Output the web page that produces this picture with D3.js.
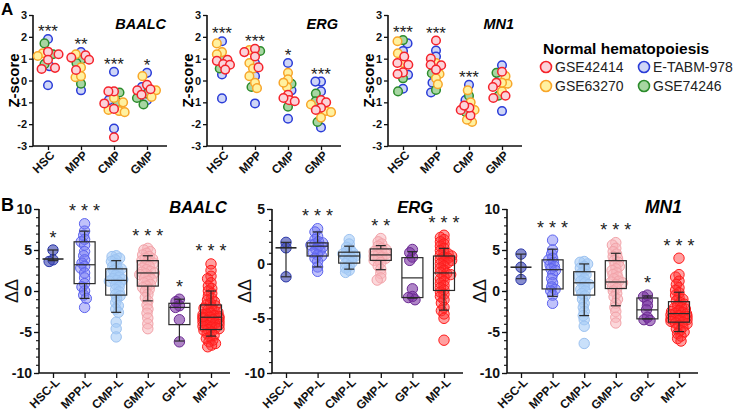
<!DOCTYPE html>
<html><head><meta charset="utf-8">
<script src="https://cdn.jsdelivr.net/npm/d3@7"></script>
<style>body{margin:0;background:#fff} svg{display:block} text{font-family:"Liberation Sans",Arial,Helvetica,sans-serif}</style>
</head><body><svg id="c" width="734" height="415"></svg>
<script>
// ---------------- DATA ----------------
const zCategories = ["HSC","MPP","CMP","GMP"];
const datasetNames = ["GSE42414","E-TABM-978","GSE63270","GSE74246"];
// zX[category][dataset] -> Z-scores ; dataset order as datasetNames
const zBAALC = [
  [[1.32,1.2,0.95,0.58,0.53],[1.9,0.65,-0.22],[1.25,1.12],[1.7,1.2,0.75]],
  [[1.15,1.05,0.95,0.48],[1.3,-0.45],[1.2,0.6,0.15,0.2],[0.95,0.8,-0.15]],
  [[-0.5,-0.5,-1.05,-1.3,-2.6],[0.4,-0.9,-2.2],[-0.8,-1.0,-1.4,-1.45,-1.35],[-0.55,-1.0]],
  [[-0.2,-0.4,-0.45,-0.65],[0.35,-0.3,-0.9],[0.2,-0.45,-0.75],[-0.6,-0.8,-1.1]]
];
const zERG = [
  [[0.95,0.9,0.75,0.72,0.5],[1.8,0.28,-0.82],[1.7,1.3,1.2],[0.55,1.0]],
  [[1.45,1.3,1.1,0.6],[0.8,0.2,-1.05],[1.4,0.8,0.55,0.2,-0.1,-0.35],[1.35,-0.3]],
  [[-0.65,-0.9,-0.95,-0.8],[0.8,-0.45,-1.75],[0.35,0.05,-0.3,-0.1],[-0.15,-1.2]],
  [[-0.9,-1.0,-1.25,-1.35],[-0.05,-0.05,-0.5,-2.15],[-1.4,-1.45,-1.7,-1.1],[-0.6,-0.95,-1.9]]
];
const zMN1 = [
  [[1.1,0.8,0.72,0.37,0.3],[1.7,1.35,0.26,-0.38],[1.8,1.25,0.8],[1.85,0.1,-0.5]],
  [[1.83,1.0,0.72,0.7,0.5],[1.37,1.1,-0.1,-0.55],[0.8,0.3,0.1,-0.17],[0.33,-0.43]],
  [[-1.6,-1.35,-1.25,-1.15],[-0.2,-0.9],[-0.45,-1.0,-1.35,-1.9,-1.8],[-0.7,-1.45]],
  [[0.4,-0.1,-0.3,-0.8,-0.7],[0.7,-1.4,0.15],[0.2,-0.15,-0.5,-0.1],[0.35,-0.7]]
];
const starsA_BAALC = ["***","**","***","*"];
const starsA_ERG   = ["***","***","*","***"];
const starsA_MN1   = ["***","***","***",""];
const zTicks = [-3,-2,-1,0,1,2,3];

const bCategories = ["HSC-L","MPP-L","CMP-L","GMP-L","GP-L","MP-L"];
const bBAALC = [
  [5.0,3.8,3.6],
  [8.2,7.3,6.8,6.3,6.0,5.6,4.8,4.3,3.8,3.4,3.0,2.8,2.2,1.6,0.9,0.5,0.0,-0.5,-0.9,-2.0],
  [4.3,4.2,4.0,3.8,3.6,3.3,3.0,2.8,2.7,2.5,2.3,2.1,1.9,1.7,1.5,1.4,1.3,1.2,1.0,0.8,0.5,0.2,-0.1,-0.4,-0.6,-0.9,-1.4,-1.8,-2.2,-2.6,-3.8,-4.6,-5.6],
  [5.2,5.0,4.8,4.6,4.4,4.2,4.0,3.9,3.7,3.6,3.4,3.2,3.0,2.8,2.6,2.4,2.3,2.2,2.1,2.0,1.8,1.6,1.4,1.2,1.0,0.8,0.6,0.4,0.2,0.0,-0.4,-0.8,-1.2,-1.7,-2.2,-2.7,-3.3,-4.0,-4.6],
  [-1.0,-1.3,-1.8,-2.0,-3.5,-6.2],
  [3.3,2.5,1.8,1.5,1.0,0.6,0.3,0.0,-0.3,-0.6,-0.9,-1.1,-1.3,-1.5,-1.7,-1.8,-2.0,-2.1,-2.3,-2.4,-2.6,-2.7,-2.8,-2.9,-3.0,-3.1,-3.2,-3.2,-3.3,-3.4,-3.5,-3.6,-3.7,-3.8,-3.9,-4.0,-4.1,-4.2,-4.3,-4.4,-4.5,-4.6,-4.7,-4.8,-5.0,-5.2,-5.4,-5.6,-5.8,-6.0,-6.2,-6.4,-6.6,-6.8]
];
// [whisker low, Q1, median, Q3, whisker high]
const boxBAALC = [[3.7,null,3.9,null,5.0],[-0.9,0.9,3.2,6.0,7.3],[-2.6,-0.5,1.3,2.7,3.7],[-1.2,0.6,2.2,3.7,4.3],[-6.1,-4.1,-2.0,-1.5,-1.0],[-5.5,-4.7,-3.2,-1.7,0.0]];
const bERG = [
  [1.95,1.45,-1.2],
  [3.2,2.9,2.5,2.2,2.0,1.9,1.8,1.7,1.6,1.5,1.3,1.2,1.0,0.8,0.7,0.5,0.2,-0.3,-0.7],
  [2.2,1.8,1.5,1.3,1.1,1.0,0.9,0.8,0.7,0.6,0.5,0.3,0.1,0.0,-0.2,-0.4,-0.6,-0.8],
  [2.3,2.0,1.8,1.6,1.4,1.3,1.2,1.1,1.0,0.9,0.8,0.7,0.6,0.5,0.4,0.3,0.1,-0.2,-0.5,-0.9,-1.3,-1.5],
  [1.3,1.0,0.6,0.3,-2.3,-3.0,-3.1,-3.3],
  [2.6,2.4,2.2,2.0,1.8,1.6,1.4,1.2,1.0,0.9,0.8,0.7,0.6,0.5,0.4,0.3,0.2,0.1,0.0,-0.2,-0.4,-0.6,-0.8,-0.9,-1.0,-1.2,-1.4,-1.6,-1.8,-2.0,-2.2,-2.4,-2.6,-2.8,-3.0,-3.3,-3.6,-4.0,-4.3,-4.6,-5.0,-7.0]
];
const boxERG = [[-1.2,null,1.45,null,1.95],[-0.3,0.7,1.6,1.9,2.9],[-0.5,0.05,0.7,1.05,1.6],[-0.55,0.3,0.8,1.35,1.65],[-3.15,-3.1,-1.3,0.55,1.1],[-4.25,-2.45,-0.85,0.7,1.4]];
const bMN1 = [
  [4.5,2.9,1.4],
  [6.2,5.0,4.5,4.0,3.8,3.5,3.2,3.0,2.7,2.5,2.0,1.5,1.0,0.5,0.2,0.0,-0.5,-1.5],
  [3.6,3.5,3.3,3.0,2.8,2.5,2.2,2.0,1.8,1.5,1.2,1.0,0.8,0.5,0.2,0.0,-0.3,-0.6,-1.0,-1.5,-2.0,-2.5,-3.0,-3.5,-4.3,-6.4],
  [5.9,5.6,5.2,4.8,4.5,4.2,4.0,3.7,3.5,3.2,3.0,2.7,2.5,2.2,2.0,1.7,1.5,1.2,1.1,1.0,0.8,0.5,0.3,0.0,-0.3,-0.7,-1.0,-1.5,-2.0,-2.5,-3.2,-3.9],
  [-0.5,-0.7,-1.2,-1.8,-2.3,-3.2,-3.5,-3.6],
  [4.0,2.0,1.7,1.2,0.8,0.4,0.1,-0.2,-0.5,-0.8,-1.0,-1.2,-1.4,-1.6,-1.8,-2.0,-2.1,-2.2,-2.4,-2.5,-2.6,-2.7,-2.8,-2.9,-3.0,-3.1,-3.2,-3.3,-3.4,-3.5,-3.6,-3.7,-3.8,-3.9,-4.0,-4.2,-4.4,-4.6,-4.8,-5.0,-5.2,-5.5,-5.8,-6.1]
];
const boxMN1 = [[1.5,null,2.9,null,4.5],[-0.65,0.25,2.6,3.8,5.1],[-3.0,-0.5,1.0,2.35,3.3],[-1.8,0.3,1.1,3.7,4.6],[-3.4,-3.4,-2.3,-0.85,-0.6],[-4.95,-3.8,-2.75,-1.3,-0.15]];
const starsB_BAALC = ["*","***","","***","*","***"];
const starsB_ERG   = ["","***","","**","","***"];
const starsB_MN1   = ["","***","","***","*","***"];

// ---------------- STYLE ----------------
const dsStyle = [
  {stroke:"#f5232b", fill:"#fbd3da"},
  {stroke:"#2b3dd8", fill:"#cfd6f6"},
  {stroke:"#f8a62a", fill:"#fff1a0"},
  {stroke:"#2c8c2c", fill:"#a7d6a2"}
];
const drawOrder = [1,3,2,0];
const bStyle = [
  {stroke:"#2a37a8", fill:"rgba(55,65,175,0.6)"},
  {stroke:"#5c63ef", fill:"rgba(115,120,245,0.45)"},
  {stroke:"#9cc2f0", fill:"rgba(165,203,246,0.6)"},
  {stroke:"#f2a2a8", fill:"rgba(248,182,188,0.55)"},
  {stroke:"#6b2a92", fill:"rgba(122,52,162,0.6)"},
  {stroke:"#ff1c1c", fill:"rgba(255,45,45,0.45)"}
];

const svg = d3.select("#c");

function swarm(items, d, maxOff) {
  const order = items.slice().sort((a,b)=>a.py-b.py);
  const placed = [];
  for (const p of order) {
    const cands = [0];
    for (const q of placed) {
      const dy = Math.abs(p.py-q.py);
      if (dy < d) { const dx = Math.sqrt(d*d-dy*dy); cands.push(q.off+dx, q.off-dx); }
    }
    cands.sort((a,b)=>Math.abs(a)-Math.abs(b) || a-b);
    let best = 0;
    for (const c of cands) {
      if (placed.every(q => (c-q.off)**2 + (p.py-q.py)**2 >= d*d-1e-6)) { best = c; break; }
    }
    p.off = Math.max(-maxOff, Math.min(maxOff, best));
    placed.push(p);
  }
  return items;
}

function axisLines(g, x0, x1, yTop, yBot) {
  g.append("path").attr("d",`M${x0},${yTop}V${yBot}H${x1}`)
    .attr("fill","none").attr("stroke","#111").attr("stroke-width",1.6);
}

// ---------------- PANEL A ----------------
svg.append("text").attr("x",1).attr("y",15).attr("font-size",17).attr("font-weight","bold").text("A");
const aTop = 15, aBot = 146;
const aY = d3.scaleLinear().domain([-3,3]).range([aBot,aTop]);
const aPanels = [
  {gene:"BAALC", data:zBAALC, stars:starsA_BAALC, x0:33, tx:166},
  {gene:"ERG",   data:zERG,   stars:starsA_ERG,   x0:207, tx:338},
  {gene:"MN1",   data:zMN1,   stars:starsA_MN1,   x0:388, tx:514}
];
aPanels.forEach(p => {
  const g = svg.append("g");
  const x = d3.scalePoint().domain(zCategories).range([p.x0+15, p.x0+114]);
  const ya = g.append("g").attr("transform",`translate(${p.x0},0)`)
    .call(d3.axisLeft(aY).tickValues(zTicks).tickSize(4).tickSizeOuter(0).tickFormat(d=>String(d)));
  ya.select(".domain").remove();
  ya.selectAll("line").attr("stroke","#111").attr("stroke-width",1.3);
  ya.selectAll("text").attr("font-size",11).attr("font-weight","bold").attr("fill","#111").attr("x",-6);
  const xa = g.append("g").attr("transform",`translate(0,${aBot})`)
    .call(d3.axisBottom(x).tickSize(4).tickSizeOuter(0));
  xa.select(".domain").remove();
  xa.selectAll("line").attr("stroke","#111").attr("stroke-width",1.3);
  xa.selectAll("text").attr("font-size",12).attr("font-weight","bold").attr("fill","#111")
    .attr("text-anchor","end").attr("transform","translate(4,7) rotate(-45)").attr("dy","0.35em").attr("y",0);
  axisLines(g, p.x0, p.x0+134, aTop, aBot);
  g.append("text").attr("transform",`translate(${p.x0-14},${(aTop+aBot)/2}) rotate(-90)`)
    .attr("text-anchor","middle").attr("font-size",15).attr("font-weight","bold").text("Z-score");
  g.append("text").attr("x",p.tx).attr("y",29).attr("text-anchor","end").attr("font-size",14.5)
    .attr("font-weight","bold").attr("font-style","italic").text(p.gene);
  zCategories.forEach((c,ci) => {
    const items = [];
    drawOrder.forEach(di => p.data[ci][di].forEach(v => items.push({v, di, py:aY(v)})));
    swarm(items, 5.6, 12);
    g.append("g").selectAll("circle").data(items).join("circle")
      .attr("cx",d=>x(c)+d.off).attr("cy",d=>d.py).attr("r",4.3)
      .attr("fill",d=>dsStyle[d.di].fill).attr("stroke",d=>dsStyle[d.di].stroke).attr("stroke-width",1.5);
    if (p.stars[ci]) {
      const top = d3.min(items, d=>d.py);
      g.append("text").attr("x",x(c)).attr("y",top-13+11).attr("text-anchor","middle")
        .attr("font-size",17).attr("fill","#222").text(p.stars[ci]);
    }
  });
});

// legend
const lg = svg.append("g");
lg.append("text").attr("x",543).attr("y",54).attr("font-size",15.5).attr("font-weight","bold").text("Normal hematopoiesis");
const legPos = [[546,67],[644,67],[546,86],[644,86]];
datasetNames.forEach((n,i) => {
  lg.append("circle").attr("cx",legPos[i][0]).attr("cy",legPos[i][1]).attr("r",5.5)
    .attr("fill",dsStyle[i].fill).attr("stroke",dsStyle[i].stroke).attr("stroke-width",1.6);
  lg.append("text").attr("x",legPos[i][0]+9).attr("y",legPos[i][1]+5).attr("font-size",14).attr("fill","#222").text(n);
});

// ---------------- PANEL B ----------------
svg.append("text").attr("x",1).attr("y",211).attr("font-size",18).attr("font-weight","bold").text("B");
const bTop = 209, bBot = 373;
const bPanels = [
  {gene:"BAALC", data:bBAALC, box:boxBAALC, stars:starsB_BAALC, x0:39, dom:[-10,10], tx:227, fs:16.5},
  {gene:"ERG",   data:bERG,   box:boxERG,   stars:starsB_ERG,   x0:272, dom:[-10,5], tx:433, fs:16.5},
  {gene:"MN1",   data:bMN1,   box:boxMN1,   stars:starsB_MN1,   x0:507, dom:[-10,10], tx:682, fs:17.5}
];
bPanels.forEach(p => {
  const g = svg.append("g");
  const y = d3.scaleLinear().domain(p.dom).range([bBot,bTop]);
  const x = d3.scalePoint().domain(bCategories).range([p.x0+14, p.x0+172]);
  const minor = g.append("g").attr("transform",`translate(${p.x0},0)`)
    .call(d3.axisLeft(y).tickValues(d3.range(p.dom[0],p.dom[1]+1,1)).tickSize(3).tickFormat(""));
  minor.select(".domain").remove();
  minor.selectAll("line").attr("stroke","#111").attr("stroke-width",1.1);
  const ya = g.append("g").attr("transform",`translate(${p.x0},0)`)
    .call(d3.axisLeft(y).tickValues(d3.range(p.dom[0],p.dom[1]+1,5)).tickSize(5).tickSizeOuter(0).tickFormat(d=>String(d)));
  ya.select(".domain").remove();
  ya.selectAll("line").attr("stroke","#111").attr("stroke-width",1.3);
  ya.selectAll("text").attr("font-size",14).attr("font-weight","bold").attr("fill","#111").attr("x",-7);
  const xa = g.append("g").attr("transform",`translate(0,${bBot})`)
    .call(d3.axisBottom(x).tickSize(5).tickSizeOuter(0));
  xa.select(".domain").remove();
  xa.selectAll("line").attr("stroke","#111").attr("stroke-width",1.3);
  xa.selectAll("text").attr("font-size",12).attr("font-weight","bold").attr("fill","#111")
    .attr("text-anchor","end").attr("transform","translate(4,7) rotate(-45)").attr("dy","0.35em").attr("y",0);
  axisLines(g, p.x0, p.x0+191, bTop, bBot);
  g.append("text").attr("transform",`translate(${p.x0-21},${(bTop+bBot)/2}) rotate(-90)`)
    .attr("text-anchor","middle").attr("font-size",18).attr("fill","#111").text("ΔΔ");
  g.append("text").attr("x",p.tx).attr("y",213).attr("text-anchor","end").attr("font-size",p.fs)
    .attr("font-weight","bold").attr("font-style","italic").text(p.gene);
  bCategories.forEach((c,ci) => {
    const items = p.data[ci].map(v => ({v, py:y(v)}));
    swarm(items, 4.2, 8);
    const st = bStyle[ci];
    g.append("g").selectAll("circle").data(items).join("circle")
      .attr("cx",d=>x(c)+d.off).attr("cy",d=>d.py).attr("r",5.2)
      .attr("fill",st.fill).attr("stroke",st.stroke).attr("stroke-width",1);
    const [lo,q1,med,q3,hi] = p.box[ci];
    const cx = x(c), bw = 21, cw = 10;
    const bg = g.append("g").attr("stroke","#2a2a2a").attr("stroke-width",1.2).attr("fill","none");
    if (q1 !== null) {
      bg.append("rect").attr("x",cx-bw/2).attr("y",y(q3)).attr("width",bw).attr("height",y(q1)-y(q3));
      bg.append("line").attr("x1",cx-bw/2).attr("x2",cx+bw/2).attr("y1",y(med)).attr("y2",y(med));
      bg.append("line").attr("x1",cx).attr("x2",cx).attr("y1",y(q3)).attr("y2",y(hi));
      bg.append("line").attr("x1",cx).attr("x2",cx).attr("y1",y(q1)).attr("y2",y(lo));
    } else {
      bg.append("line").attr("x1",cx).attr("x2",cx).attr("y1",y(hi)).attr("y2",y(lo));
      bg.append("line").attr("x1",cx-bw/2).attr("x2",cx+bw/2).attr("y1",y(med)).attr("y2",y(med)).attr("stroke-width",1.6);
    }
    [lo,hi].forEach(w => bg.append("line").attr("x1",cx-cw/2).attr("x2",cx+cw/2).attr("y1",y(w)).attr("y2",y(w)));
    if (p.stars[ci]) {
      const top = d3.min(items, d=>d.py);
      g.append("text").attr("x",cx).attr("y",top-17+10.5).attr("text-anchor","middle")
        .attr("font-size",18).attr("fill","#222").text(p.stars[ci].split("").join(" "));
    }
  });
});
</script></body></html>
